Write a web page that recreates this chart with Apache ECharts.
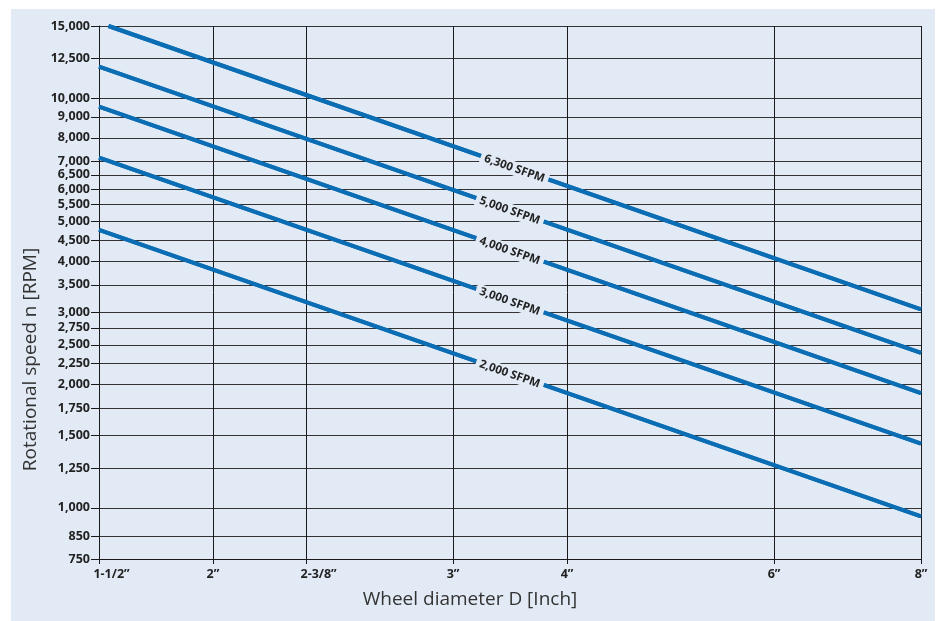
<!DOCTYPE html>
<html>
<head>
<meta charset="utf-8">
<script src="https://cdn.jsdelivr.net/npm/echarts@6/dist/echarts.min.js"></script>
<style>
  html, body { margin: 0; padding: 0; background: #fff; }
  #chart { width: 937px; height: 621px; }
</style>
</head>
<body>
<div id="chart"></div>
<script>
// x axis: where the printed diameter grid lines sit on the log scale, and their labels
const diameterTicks = [1.6, 2, 2.4, 3.2, 4, 6, 8];
const diameterLabels = ['1-1/2\u201d', '2\u201d', '2-3/8\u201d', '3\u201d', '4\u201d', '6\u201d', '8\u201d'];
// y axis grid values (RPM)
const rpmTicks = [750, 850, 1000, 1250, 1500, 1750, 2000, 2250, 2500, 2750, 3000,
  3500, 4000, 4500, 5000, 5500, 6000, 6500, 7000, 8000, 9000, 10000, 12500, 15000];

// one straight line per surface speed, end points
const sfpmNames = ['6,300 SFPM', '5,000 SFPM', '4,000 SFPM', '3,000 SFPM', '2,000 SFPM'];
const lineDiameters = [[1.63, 8], [1.6, 8], [1.6, 8], [1.6, 8], [1.6, 8]];
const lineRpm = [[15000, 3050], [11940, 2390], [9530, 1905], [7160, 1435], [4770, 953]];

const panelColor = '#E2EAF5';
const lineColor = '#0B6DB3';
const font = 'Open Sans';

function nearestTick(v) {
  let best = 0;
  for (let i = 1; i < diameterTicks.length; i++) {
    if (Math.abs(diameterTicks[i] - v) < Math.abs(diameterTicks[best] - v)) best = i;
  }
  return best;
}

const series = sfpmNames.map(function (name, i) {
  const pts = lineDiameters[i].map(function (d, j) { return [d, lineRpm[i][j]]; });
  return {
    name: name,
    type: 'line',
    data: pts,
    symbol: 'none',
    silent: true,
    lineStyle: { color: lineColor, width: 4 },
    // label sits on the middle of the line, its background cuts a gap in it
    markLine: {
      silent: true,
      symbol: 'none',
      lineStyle: { color: lineColor, width: 4, type: 'solid' },
      label: {
        show: true,
        position: 'middle',
        distance: [0, -8],
        formatter: name,
        color: '#222',
        fontFamily: font,
        fontWeight: 'bold',
        fontSize: 11.5,
        backgroundColor: panelColor,
        padding: [1, 4]
      },
      emphasis: { disabled: true },
      data: [[{ coord: pts[0] }, { coord: pts[1] }]]
    }
  };
});

const chart = echarts.init(document.getElementById('chart'));
chart.setOption({
  animation: false,
  backgroundColor: '#fff',
  graphic: [{
    type: 'rect',
    z: -10,
    silent: true,
    shape: { x: 11, y: 9, width: 924, height: 612 },
    style: { fill: panelColor }
  }],
  grid: { left: 99, top: 26, right: 16, bottom: 62 },
  xAxis: {
    type: 'log',
    logBase: 10,
    min: 1.6,
    max: 8,
    name: 'Wheel diameter D [Inch]',
    nameLocation: 'middle',
    nameGap: 31,
    nameTextStyle: { fontFamily: font, fontSize: 19, color: '#333', padding: [0, 80, 0, 0] },
    axisLine: { lineStyle: { color: '#1a1a1a', width: 1 } },
    axisTick: { customValues: diameterTicks, length: 5, lineStyle: { color: '#1a1a1a' } },
    axisLabel: {
      customValues: diameterTicks,
      margin: 9,
      fontFamily: font,
      fontWeight: 'bold',
      fontSize: 12.5,
      color: '#222',
      formatter: function (v) {
        const s = diameterLabels[nearestTick(v)];
        return s.indexOf('-') > 0 ? '{w|' + s + '}' : s;
      },
      rich: {
        w: { padding: [0, 0, 0, 25], fontFamily: font, fontWeight: 'bold', fontSize: 12.5, color: '#222' }
      }
    },
    splitLine: { show: true, lineStyle: { color: '#1a1a1a', width: 1 } },
    minorTick: { show: false },
    minorSplitLine: { show: false }
  },
  yAxis: {
    type: 'log',
    logBase: 10,
    min: 750,
    max: 15000,
    name: 'Rotational speed n [RPM]',
    nameLocation: 'middle',
    nameGap: 55,
    nameTextStyle: { fontFamily: font, fontSize: 19, color: '#333', padding: [0, 134, 0, 0] },
    axisLine: { show: true, lineStyle: { color: '#1a1a1a', width: 1 } },
    axisTick: { show: true, customValues: rpmTicks, length: 8, lineStyle: { color: '#1a1a1a' } },
    axisLabel: {
      customValues: rpmTicks,
      margin: 9,
      fontFamily: font,
      fontWeight: 'bold',
      fontSize: 12.5,
      color: '#222',
      formatter: function (v) {
        return Math.round(v).toLocaleString('en-US');
      }
    },
    splitLine: { show: true, lineStyle: { color: '#333', width: 1 } }
  },
  series: series
});
</script>
</body>
</html>
